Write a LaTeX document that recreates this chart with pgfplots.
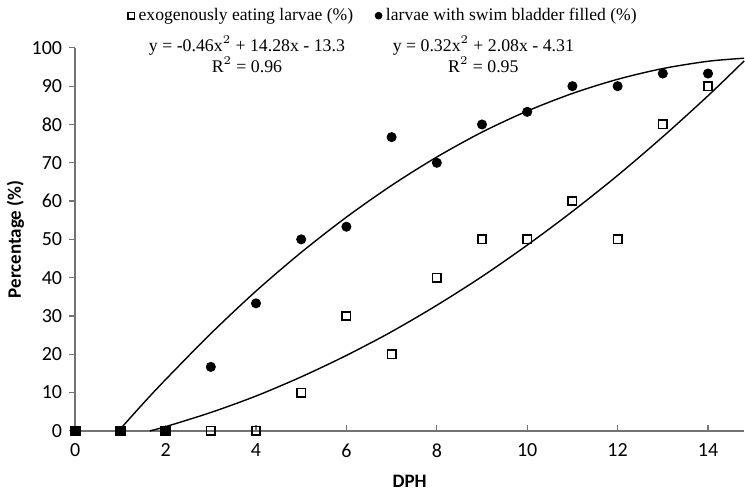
\documentclass[border=0pt]{standalone}
\usepackage{fontspec}
\setmainfont{Liberation Serif}
\newfontfamily\calib{Carlito}
\usepackage{pgfplots}
\pgfplotsset{compat=1.18}

% fitted curves: points
\pgfplotstableread{
x y
0.961 0
1.5 7.1
2 13.4
3 25.4
4 36.5
5 46.6
6 55.8
7 64.1
8 71.5
9 78.0
10 83.5
11 88.1
12 91.8
13 94.6
14 96.5
14.8 97.3
}\fitA
\pgfplotstableread{
x y
1.652 0
2 1.1
3 4.8
4 9.1
5 14.1
6 19.7
7 25.9
8 32.8
9 40.3
10 48.5
11 57.3
12 66.7
13 76.8
14 87.5
14.8 96.6
}\fitB

\begin{document}
\begin{tikzpicture}
\begin{axis}[
  scale only axis, width=334.5pt, height=191.5pt,
  xmin=0, xmax=14.8, ymin=0, ymax=100,
  axis x line=bottom, axis y line=left,
  axis line style={-, draw=black!55, line width=0.8pt},
  xtick={0,2,...,14}, ytick={0,10,...,100},
  tick align=outside, major tick length=3pt,
  tick style={draw=black!55, line width=0.6pt},
  xtick style={yshift=3pt},
  ticklabel style={font=\calib\fontsize{10}{12}\selectfont},
  /pgf/number format/assume math mode=true,
  xlabel={\calib\bfseries\fontsize{9.5}{11}\selectfont DPH},
  ylabel={\calib\bfseries\fontsize{9.5}{11}\selectfont Percentage (\%)},
  xlabel style={yshift=-2pt},
  ylabel style={yshift=-3pt},
  clip=false,
  legend columns=2,
  legend style={draw=none, fill=none, at={(0.462,1.084)}, anchor=center,
    font=\fontsize{8.8}{9.5}\selectfont, column sep=0pt,
    nodes={inner xsep=2pt},
    /tikz/every even column/.append style={column sep=9pt}},
  legend image code/.code={\draw[#1, mark size=1.7pt] plot coordinates {(0.1cm,0cm)};},
  legend cell align=left,
]
\addplot[only marks, mark=square, mark size=2.1pt, mark options={line width=0.8pt, fill=white}]
  coordinates {(3,0) (4,0) (5,10) (6,30) (7,20) (8,40) (9,50) (10,50) (11,60) (12,50) (13,80) (14,90)};
\addlegendentry{exogenously eating larvae (\%)}
\addplot[only marks, mark=*, mark size=2.3pt, black]
  coordinates {(3,16.7) (4,33.3) (5,50) (6,53.3) (7,76.7) (8,70) (9,80) (10,83.3) (11,90) (12,90) (13,93.3) (14,93.3)};
\addlegendentry{larvae with swim bladder filled (\%)}
\addplot[black, line width=0.7pt, smooth, forget plot] table {\fitA};
\addplot[black, line width=0.7pt, smooth, forget plot] table {\fitB};
\addplot[only marks, mark=square*, mark size=2.4pt, black, forget plot]
  coordinates {(0,0) (1,0) (2,0)};
\node[align=center, font=\fontsize{8.9}{8.5}\selectfont] at (axis cs:3.8,98.3)
  {y = -0.46x$^{2}$ + 14.28x - 13.3\\R$^{2}$ = 0.96};
\node[align=center, font=\fontsize{8.9}{8.5}\selectfont] at (axis cs:9.03,98.3)
  {y = 0.32x$^{2}$ + 2.08x - 4.31\\R$^{2}$ = 0.95};
\end{axis}
\end{tikzpicture}
\end{document}
